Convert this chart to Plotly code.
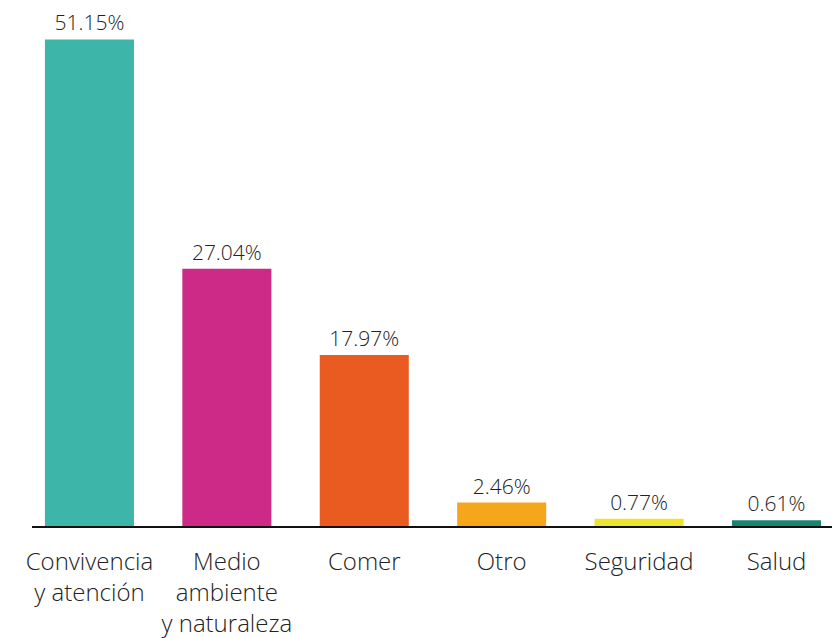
import plotly.graph_objects as go

categories = ["Convivencia<br>y atención", "Medio<br>ambiente<br>y naturaleza", "Comer", "Otro", "Seguridad", "Salud"]
values = [51.15, 27.04, 17.97, 2.46, 0.77, 0.61]
labels = ["51.15%", "27.04%", "17.97%", "2.46%", "0.77%", "0.61%"]
colors = ["#3db6a9", "#cc2a86", "#e95b20", "#f5a61b", "#eee42b", "#1b8471"]

x_pos = list(range(len(categories)))
FONT = "Open Sans"

fig = go.Figure(go.Bar(
    x=x_pos, y=values, width=0.648,
    marker=dict(color=colors, line=dict(width=0)),
    text=labels, textposition="outside", cliponaxis=False,
    textfont=dict(family=FONT, size=21, color="#222222", weight=300),
    hoverinfo="skip",
))

fig.update_layout(
    width=832, height=638,
    margin=dict(l=32, r=0, t=0, b=112),
    paper_bgcolor="white", plot_bgcolor="white",
    showlegend=False,
    font=dict(family=FONT, color="#222222", weight=300),
    xaxis=dict(
        range=[-0.418, 5.404], tickmode="array", tickvals=x_pos, ticktext=categories,
        showline=True, linecolor="#111111", linewidth=1.5, showgrid=False, zeroline=False,
        ticks="", automargin=False, ticklabelstandoff=13,
        tickfont=dict(family=FONT, size=24, color="#222222", weight=300),
    ),
    yaxis=dict(range=[0, 55.3], visible=False, showgrid=False, zeroline=False, automargin=False),
)

fig.write_html("out.html", config={"displayModeBar": False},
               post_script="document.body.style.margin='0';")
